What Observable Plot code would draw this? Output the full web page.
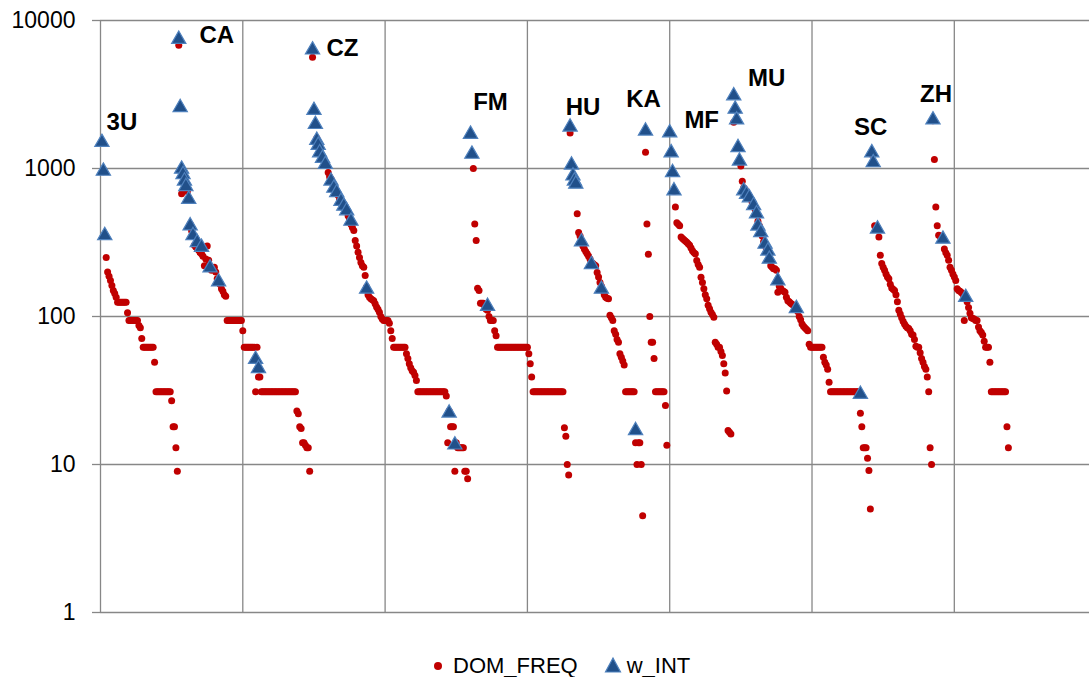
<!DOCTYPE html>
<html><head><meta charset="utf-8">
<script src="https://cdn.jsdelivr.net/npm/d3@7"></script>
<script src="https://cdn.jsdelivr.net/npm/@observablehq/plot@0.6"></script>
<style>
body{margin:0;background:#fff;font-family:"Liberation Sans",Arial,sans-serif;}
#chart{position:relative;width:1089px;height:677px;overflow:hidden;}
#chart svg{display:block;}
#legend{position:absolute;top:655px;left:434px;height:22px;display:flex;align-items:center;font-size:22px;line-height:22px;color:#000;white-space:nowrap;}
#legend svg{display:block;}
</style></head><body>
<div id="chart"><div id="legend"></div></div>
<script>
// ---- data ----
const groups = ["3U","CA","CZ","FM","HU","KA","MF","MU","SC","ZH"];
const groupStart = [1,55,149,260,330,383,400,445,542,585];
const seriesNames = ["DOM_FREQ","w_INT"];
const yTicks = [1,10,100,1000,10000];
const xGrid = [0,100,200,300,400,500,600];

const dom3U = [1500,950,350,250,200,187,175,162,150,143,135,
 125,125,125,125,125,125,125,106,94,94,94,94,94,94,94,87,84,71,
 62,62,62,62,62,62,62,62,49,31,31,31,31,31,31,31,31,31,31,31,27,18,18,13,9];
const int3U = [[0,1550],[1,990],[2,364]];

const domCA = [6800,2600,675,900,830,770,700,620,420,380,350,303,295,288,280,270,265,255,220,245,300,240,215,205,210,215,200,180,175,165,154,148,140,137,
 94,94,94,94,94,94,94,94,94,94,94,80,62,62,62,62,62,62,62,62,31,62,39,39,
 31,31,31,31,31,31,31,31,31,31,31,31,31,31,31,31,31,31,31,31,31,31,31,31,31,
 23,22,18,17.5,14,14,13.5,13,13,9];
const intCA = [[0,7700],[1,2667],[2,1022],[3,940],[4,850],[5,780],[7,640],[8,423],[10,364],[13,326],[16,303],[22,220],[28,177],[54,53],[56,46]];

const domCZ = [5650,2500,2000,1600,1450,1320,1250,1200,1150,1100,1050,940,880,850,800,760,730,700,660,620,600,575,560,540,520,480,455,420,400,381,326,300,272,250,232,220,215,189,158,140,135,132,130,128,122,116,112,107,100,96,94,94,94,94,90,80,71,
 62,62,62,62,62,62,62,62,62,56,52,48,45,43,42,40,37,
 31,31,31,31,31,31,31,31,31,31,31,31,31,31,31,31,31,31,31,31,
 29,14,23,18,18,18,9,14,13,13,13,13,13,9,9,8];
const intCZ = [[0,6530],[1,2550],[2,2050],[3,1600],[4,1480],[5,1320],[7,1210],[9,1100],[13,850],[15,760],[17,710],[20,620],[22,575],[24,535],[27,455],[38,158],[96,23],[100,14]];

const domFM = [1700,1250,1000,422,326,155,150,123,123,123,118,112,110,100,94,94,94,80,74,
 62,62,62,62,62,62,62,62,62,62,62,62,62,62,62,62,62,62,62,62,62,62,56,48,39,
 31,31,31,31,31,31,31,31,31,31,31,31,31,31,31,31,31,31,31,31,31,31,17.7,15.5,10,8.5];
const intFM = [[0,1760],[1,1290],[12,121]];

const domHU = [1735,1050,900,830,790,495,370,350,320,300,286,275,265,255,245,232,228,224,220,198,185,170,160,150,140,135,133,132,102,98,94,80,76,70,67,56,53,50,47,
 31,31,31,31,31,31,31,14,10,14,14,10,4.5];
const intHU = [[0,1970],[1,1090],[2,920],[3,850],[4,810],[8,330],[15,232],[22,158],[46,17.5]];

const domKA = [1290,422,263,100,67,67,52,31,31,31,31,31,31,31,25,13.5];
const intKA = [[0,1850]];

const domMF = [1750,1280,950,700,550,430,420,410,344,336,330,324,318,310,303,290,278,270,265,239,225,215,184,170,154,140,132,119,113,107,103,99,67,65,62,62,58,54.6,48,41.5,31.4,17,16.5,16.1];
const intMF = [[0,1800],[1,1320],[2,970],[3,730]];

const domMU = [2050,2500,2150,1400,1130,1040,820,740,720,690,670,650,620,590,560,530,500,440,410,380,350,320,300,285,270,250,220,215,210,210,205,146,160,155,150,148,146,135,128,126,123,121,119,117,115,108,100,95,89,86,84,82,80,65,
 62,62,62,62,62,62,62,62,62,53,49,47,44,36,
 31,31,31,31,31,31,31,31,31,31,31,31,31,31,31,31,31,31,31,31,31,
 22.2,18,13,13,13,11,9.1,5];
const intMU = [[0,3200],[1,2600],[2,2200],[3,1430],[4,1160],[7,730],[9,690],[11,655],[14,580],[16,510],[17,422],[19,381],[22,318],[24,286],[25,252],[31,180],[44,117],[89,30.8]];

const domSC = [1250,1100,410,405,400,344,259,228,215,205,194,185,180,165,156,153,150,140,126,110,104,98,93,89,86,84,83,80,76,75,70,63,62,62,57,52,49,46,44,39,31,13,10];
const intSC = [[0,1320],[1,1130],[4,403]];

const domZH = [2100,1150,550,410,354,350,345,340,286,270,259,240,215,205,194,185,175,154,150,148,145,142,94,135,126,115,105,98,97,96,94,94,85,80,78,75,68,62,62,62,49,
 31,31,31,31,31,31,31,31,31,31,31,18,13];
const intZH = [[0,2200],[7,344],[23,139]];

// ---- layout / style (not data) ----
const labelDx = [20,38,30,20,13,-2,32,33,-1,3];
const labelDy = [-18,-2,0,-30,-18,-30,-10,-15,-23,-24];
const domColor = "#C00000", triFill = "#21508A", triStroke = "#4F81BD", gridColor = "#878787";

// ---- assemble ----
const domSets = [dom3U,domCA,domCZ,domFM,domHU,domKA,domMF,domMU,domSC,domZH];
const intSets = [int3U,intCA,intCZ,intFM,intHU,intKA,intMF,intMU,intSC,intZH];
const domRows = [], intRows = [], labelRows = [];
groups.forEach((g,k) => {
  domSets[k].forEach((v,j) => domRows.push({group:g, i: groupStart[k]+j, v}));
  intSets[k].forEach(([o,v]) => intRows.push({group:g, i: groupStart[k]+o, v}));
  labelRows.push({group:g, i: groupStart[k], v: d3.max(intSets[k], d => d[1])});
});

const chart = Plot.plot({
  width: 1089, height: 640,
  marginLeft: 100, marginRight: 0, marginTop: 20, marginBottom: 28,
  style: {fontFamily: "'Liberation Sans', Arial, sans-serif", fontSize: "23px", color: "#000", background: "#fff", overflow: "visible"},
  x: {domain: [0, 695], axis: null},
  y: {type: "log", domain: [1, 10000], axis: null},
  marks: [
    Plot.ruleX(xGrid, {stroke: gridColor, strokeWidth: 1.3}),
    Plot.ruleY(yTicks, {stroke: gridColor, strokeWidth: 1.3}),
    Plot.axisY({ticks: yTicks, tickSize: 8, tickPadding: 17, tickFormat: d => String(d), stroke: gridColor, strokeWidth: 1.3, fontSize: 23, label: null}),
    Plot.dot(domRows, {x: "i", y: "v", r: 3.5, fill: domColor, stroke: "none"}),
    Plot.dot(intRows, {x: "i", y: "v", symbol: "triangle", r: 5.3, dy: 2, fill: triFill, stroke: triStroke, strokeWidth: 1.2}),
    ...labelRows.map((d,k) => Plot.text([d], {x: "i", y: "v", text: "group", dx: labelDx[k], dy: labelDy[k], fontSize: 24, fontWeight: "bold", fill: "#000"}))
  ]
});
const host = document.getElementById("chart");
host.insertBefore(chart, host.firstChild);

// legend
const leg = document.getElementById("legend");
leg.innerHTML =
  `<svg width="8" height="22"><circle cx="4" cy="11" r="4" fill="${domColor}"/></svg>` +
  `<span style="margin-left:11px">${seriesNames[0]}</span>` +
  `<svg width="18" height="22" style="margin-left:26px"><path d="M9,3 L16.5,17 L1.5,17 Z" fill="${triFill}" stroke="${triStroke}" stroke-width="1.2"/></svg>` +
  `<span style="margin-left:5px">${seriesNames[1]}</span>`;
</script>
</body></html>
